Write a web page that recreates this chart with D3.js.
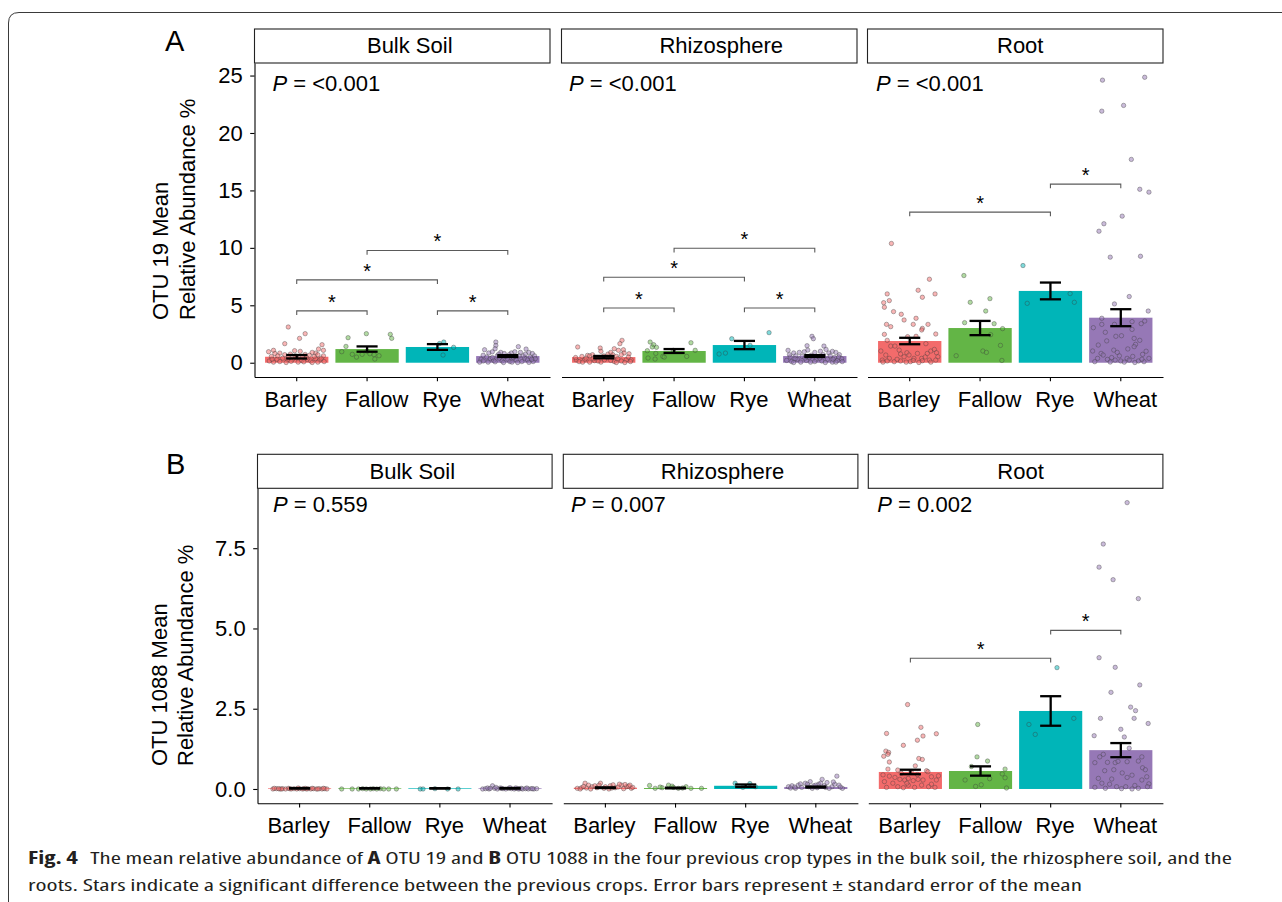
<!DOCTYPE html>
<html><head><meta charset="utf-8">
<script src="https://cdn.jsdelivr.net/npm/d3@7"></script>
<style>
body{margin:0;background:#fff;}
svg{display:block;font-family:"Liberation Sans",Arial,Helvetica,sans-serif;}
</style></head><body>
<svg id="chart" width="1282" height="902"></svg>
<script>
// ---------------- DATA ----------------
const crops = ["Barley","Fallow","Rye","Wheat"];
const compartments = ["Bulk Soil","Rhizosphere","Root"];
const cropColors = ["#F36B6B","#63B546","#00B5B8","#9678B6"];

const otu19Ticks = [0,5,10,15,20,25];
const otu1088Ticks = [0,2.5,5,7.5];

// means and standard errors per compartment (Bulk, Rhizo, Root) x crop
const otu19Mean = [[0.52,1.19,1.37,0.58],[0.49,1.02,1.54,0.58],[1.89,3.02,6.25,3.92]];
const otu19SE   = [[0.15,0.23,0.25,0.08],[0.10,0.17,0.36,0.08],[0.28,0.62,0.73,0.74]];
const otu1088Mean = [[0.02,0.02,0.02,0.02],[0.04,0.03,0.10,0.06],[0.53,0.56,2.43,1.21]];
const otu1088SE   = [[0.004,0.004,0.004,0.005],[0.01,0.01,0.04,0.015],[0.07,0.145,0.46,0.22]];

const otu19P = ["<0.001","<0.001","<0.001"];
const otu1088P = ["0.559","0.007","0.002"];

// significance brackets: [from, to, level]
const otu19Sig = [
  [["Barley","Fallow",4.51],["Rye","Wheat",4.51],["Barley","Rye",7.21],["Fallow","Wheat",9.77]],
  [["Barley","Fallow",4.77],["Rye","Wheat",4.77],["Barley","Rye",7.44],["Fallow","Wheat",9.97]],
  [["Barley","Rye",13.11],["Rye","Wheat",15.55]]
];
const otu1088Sig = [[],[],[["Barley","Rye",4.07],["Rye","Wheat",4.94]]];

// individual samples: [jitter (category units), value]
const otu19BulkPts = {
  Barley:[[-0.12,3.11],[0.12,2.53],[0.04,2.12],[-0.17,1.66],[0.36,1.57],[0.31,1.19],[0.38,1.08],[0.27,0.84],[-0.40,0.96],[-0.33,1.08],[-0.03,1.05],[0.05,0.99],[-0.24,0.84],[-0.31,0.80],[0.22,0.90],[-0.09,0.75],[-0.17,0.70],[0.12,0.72],[0.18,0.65],[-0.36,0.55],[-0.28,0.30],[-0.20,0.40],[-0.13,0.25],[-0.06,0.30],[0.00,0.45],[0.07,0.20],[0.15,0.30],[0.20,0.15],[0.27,0.35],[0.33,0.25],[0.39,0.10],[-0.39,0.15],[-0.33,0.05],[-0.24,0.10],[-0.15,0.02],[-0.08,0.12],[0.02,0.05],[0.10,0.08],[0.22,0.02],[0.30,0.05],[0.35,0.40],[-0.02,0.60],[0.08,0.50],[-0.27,0.60],[0.25,0.55],[-0.12,0.50],[0.14,0.45],[0.30,0.70],[-0.35,0.30],[0.38,0.60]],
  Fallow:[[-0.27,2.18],[-0.01,2.53],[0.33,2.47],[0.35,2.12],[-0.30,1.42],[-0.36,0.96],[-0.21,0.73],[-0.15,0.49],[-0.07,0.73],[0.04,0.78],[0.10,0.70],[0.17,0.61],[0.11,0.32],[0.00,1.00]],
  Rye:[[0.09,1.80],[0.23,1.34],[0.08,0.67],[0.03,1.67]],
  Wheat:[[-0.17,1.80],[-0.17,1.50],[-0.18,1.22],[0.15,1.40],[0.26,1.19],[-0.33,1.13],[-0.27,0.85],[-0.22,0.95],[-0.10,0.90],[-0.05,0.80],[0.05,0.85],[0.10,0.95],[0.18,0.90],[0.30,0.90],[0.35,0.80],[0.38,0.60],[-0.38,0.30],[-0.35,0.15],[-0.30,0.50],[-0.25,0.35],[-0.20,0.20],[-0.15,0.60],[-0.12,0.40],[-0.08,0.15],[-0.03,0.55],[0.00,0.30],[0.03,0.10],[0.08,0.45],[0.12,0.25],[0.16,0.60],[0.20,0.10],[0.24,0.40],[0.28,0.25],[0.32,0.50],[0.36,0.10],[0.39,0.35],[-0.40,0.05],[-0.28,0.05],[-0.18,0.08],[-0.06,0.02],[0.06,0.05],[0.14,0.02],[0.22,0.60],[0.30,0.03],[-0.13,0.75],[0.02,0.70],[-0.35,0.65],[0.10,0.55],[0.25,0.75],[-0.22,0.45],[0.34,0.30]]
};
const otu19RhizoPts = {
  Barley:[[-0.37,1.37],[0.26,1.95],[0.23,1.66],[-0.05,1.28],[-0.04,0.99],[0.15,1.22],[0.21,1.08],[0.28,1.13],[0.36,0.78],[0.29,0.85],[-0.23,0.64],[-0.16,0.70],[-0.31,0.55],[0.06,0.75],[0.10,0.90],[0.13,0.70],[0.18,0.55],[0.25,0.70],[-0.39,0.25],[-0.27,0.25],[-0.13,0.18],[0.01,0.25],[0.32,0.25],[0.39,0.25],[-0.35,0.10],[-0.20,0.05],[-0.04,0.05],[0.15,0.10],[0.25,0.15],[-0.40,0.45],[-0.10,0.40],[0.05,0.45],[-0.25,0.40],[0.35,0.50],[0.20,0.35],[-0.30,0.05],[-0.15,0.35],[0.10,0.20],[0.30,0.02],[0.00,0.60],[-0.08,0.15],[0.18,0.02],[0.38,0.10],[-0.20,0.60],[0.12,0.45]],
  Fallow:[[-0.34,1.80],[-0.29,1.57],[-0.25,1.34],[-0.31,1.37],[0.24,1.74],[0.30,1.08],[-0.38,1.05],[-0.26,0.81],[-0.37,0.41],[-0.27,0.32],[-0.16,0.55],[-0.14,0.49],[0.18,0.55],[-0.01,1.08]],
  Rye:[[-0.18,2.09],[0.35,2.62],[0.08,1.51],[-0.36,0.76],[-0.27,0.84]],
  Wheat:[[-0.04,2.30],[-0.02,2.09],[-0.11,1.48],[0.13,1.45],[0.16,1.16],[0.25,0.99],[-0.38,1.08],[-0.10,1.10],[-0.30,0.85],[-0.22,0.90],[-0.15,0.95],[0.00,0.90],[0.08,1.00],[0.20,0.85],[0.30,0.90],[0.35,0.70],[-0.35,0.50],[-0.27,0.60],[-0.18,0.55],[-0.05,0.65],[0.05,0.55],[0.12,0.70],[0.22,0.60],[0.28,0.45],[0.38,0.35],[-0.40,0.20],[-0.33,0.10],[-0.25,0.30],[-0.12,0.20],[-0.06,0.05],[0.02,0.30],[0.10,0.15],[0.18,0.30],[0.25,0.05],[0.32,0.20],[0.39,0.10],[-0.20,0.05],[0.15,0.02],[-0.28,0.35],[0.07,0.40],[-0.14,0.40],[0.34,0.50],[-0.36,0.70],[0.26,0.30],[-0.08,0.45],[0.00,0.10],[0.30,0.05],[-0.30,0.02]]
};
const otu19RootPts = {
  Barley:[[-0.26,10.38],[0.28,7.27],[0.12,6.31],[0.36,5.99],[0.18,5.70],[-0.32,5.99],[-0.29,5.41],[-0.37,5.23],[-0.36,4.83],[-0.23,4.45],[-0.12,4.22],[0.09,3.87],[-0.08,3.72],[-0.33,3.34],[-0.27,3.14],[0.05,3.34],[0.26,3.34],[0.18,2.99],[0.17,2.85],[-0.36,2.47],[0.37,2.50],[0.09,2.30],[-0.03,2.27],[-0.32,1.95],[-0.27,1.45],[-0.21,1.45],[0.23,1.66],[-0.41,1.02],[-0.34,0.67],[-0.29,0.38],[-0.15,1.10],[-0.13,0.76],[-0.08,0.52],[-0.04,0.87],[-0.01,0.67],[0.06,0.38],[0.11,0.81],[0.17,0.38],[0.25,0.81],[0.30,1.02],[0.35,1.16],[0.38,0.87],[0.40,0.52],[0.37,0.23],[0.28,0.23],[0.18,0.17],[0.01,0.09],[-0.13,0.15],[-0.22,0.09],[-0.32,0.15],[-0.39,0.23],[0.22,0.50],[-0.18,0.30],[0.05,0.20],[-0.05,0.05],[0.30,0.05],[-0.38,0.05],[0.13,0.02]],
  Fallow:[[-0.23,7.59],[0.14,5.58],[-0.14,5.26],[0.08,4.50],[-0.22,3.49],[0.20,3.40],[0.32,2.97],[0.15,2.44],[0.29,1.51],[0.04,1.02],[0.09,0.90],[-0.34,0.61],[0.31,0.20]],
  Rye:[[-0.39,8.46],[0.28,6.02],[0.34,5.26],[-0.33,5.17]],
  Wheat:[[-0.26,24.60],[0.34,24.85],[-0.27,21.90],[0.04,22.40],[0.15,17.70],[0.27,15.10],[0.40,14.85],[0.02,12.76],[-0.24,12.10],[-0.31,11.45],[-0.15,9.19],[0.28,9.27],[0.12,5.76],[-0.09,5.12],[0.39,4.50],[0.34,3.63],[0.29,3.40],[-0.27,3.87],[-0.27,3.34],[-0.09,3.34],[0.16,3.58],[-0.39,3.05],[-0.22,2.65],[0.16,2.90],[-0.07,2.30],[0.01,2.35],[0.19,2.12],[0.21,1.60],[-0.32,1.54],[-0.10,1.10],[-0.40,1.02],[-0.28,0.81],[-0.25,0.67],[-0.33,0.38],[-0.19,0.29],[-0.08,0.23],[0.00,0.15],[0.09,0.38],[0.12,0.23],[0.17,0.55],[0.31,0.73],[0.19,1.40],[0.40,0.38],[0.25,0.15],[0.33,0.09],[-0.37,0.09],[-0.15,0.06],[0.05,0.05],[0.20,0.02],[-0.02,0.60],[0.27,1.95],[0.10,1.20],[-0.20,1.90],[0.36,1.00],[-0.13,0.45],[0.30,0.30],[-0.05,0.90]]
};
const otu1088BulkPts = {
  Barley:[[-0.38,0.00],[-0.33,0.01],[-0.28,0.00],[-0.24,0.01],[-0.20,0.00],[-0.16,0.02],[-0.12,0.00],[-0.08,0.01],[-0.04,0.00],[0.00,0.01],[0.04,0.00],[0.08,0.02],[0.12,0.01],[0.16,0.00],[0.20,0.01],[0.24,0.00],[0.28,0.01],[0.32,0.00],[0.36,0.01],[0.39,0.00],[-0.36,0.02],[-0.26,0.00],[-0.14,0.01],[-0.02,0.03],[0.10,0.00],[0.18,0.02],[0.26,0.00],[0.34,0.02],[-0.30,0.01],[0.06,0.01]],
  Fallow:[[-0.40,0.00],[-0.25,0.00],[-0.16,0.00],[-0.10,0.01],[0.01,0.00],[0.10,0.00],[0.15,0.01],[0.27,0.00],[0.38,0.00],[-0.05,0.00],[0.05,0.01],[0.20,0.00]],
  Rye:[[-0.28,0.00],[-0.24,0.00],[-0.07,0.01],[0.11,0.00],[0.26,0.00]],
  Wheat:[[-0.39,0.00],[-0.35,0.01],[-0.30,0.00],[-0.25,0.10],[-0.22,0.02],[-0.18,0.00],[-0.14,0.03],[-0.10,0.01],[-0.06,0.00],[-0.02,0.02],[0.02,0.01],[0.06,0.00],[0.10,0.02],[0.14,0.01],[0.18,0.00],[0.22,0.01],[0.26,0.00],[0.30,0.01],[0.34,0.00],[0.38,0.01],[-0.32,0.03],[-0.20,0.05],[-0.12,0.02],[0.00,0.04],[0.08,0.03],[0.16,0.02],[0.24,0.03],[0.32,0.01],[-0.28,0.02],[0.12,0.00]]
};
const otu1088RhizoPts = {
  Barley:[[-0.29,0.18],[-0.07,0.18],[-0.24,0.12],[-0.40,0.02],[-0.34,0.04],[-0.19,0.07],[-0.12,0.04],[0.00,0.07],[0.07,0.10],[0.14,0.04],[0.23,0.12],[0.30,0.07],[0.37,0.02],[-0.36,0.00],[-0.27,0.03],[-0.15,0.10],[-0.02,0.02],[0.05,0.00],[0.11,0.13],[0.18,0.06],[0.26,0.01],[0.33,0.09],[0.39,0.05],[-0.09,0.12],[0.20,0.15],[0.28,0.14],[-0.31,0.08],[0.09,0.03],[-0.21,0.00],[0.35,0.12]],
  Fallow:[[-0.37,0.11],[-0.10,0.12],[-0.29,0.02],[-0.19,0.04],[-0.03,0.05],[0.04,0.02],[0.22,0.02],[0.37,0.02],[-0.22,0.06],[0.10,0.03],[0.15,0.07],[-0.05,0.09]],
  Rye:[[-0.15,0.18],[0.06,0.17],[0.14,0.07],[-0.04,0.05]],
  Wheat:[[0.30,0.40],[0.09,0.30],[-0.08,0.23],[-0.15,0.18],[0.16,0.20],[0.04,0.15],[-0.25,0.12],[-0.39,0.07],[-0.29,0.02],[-0.10,0.07],[0.23,0.07],[0.33,0.12],[0.38,0.02],[-0.34,0.10],[-0.20,0.05],[-0.03,0.10],[0.02,0.04],[0.12,0.10],[0.19,0.02],[0.27,0.15],[-0.12,0.15],[0.07,0.18],[-0.36,0.03],[0.35,0.06],[-0.22,0.16],[0.14,0.05],[-0.05,0.02],[0.25,0.22],[0.00,0.12],[-0.30,0.06]]
};
const otu1088RootPts = {
  Barley:[[-0.04,2.63],[0.15,1.92],[-0.34,1.73],[0.18,1.65],[0.37,1.72],[-0.10,1.36],[0.10,1.52],[-0.35,1.18],[-0.31,1.14],[-0.32,1.08],[-0.38,1.02],[-0.30,0.84],[0.12,0.95],[0.17,0.92],[0.07,0.72],[-0.32,0.62],[-0.18,0.59],[-0.13,0.49],[0.01,0.54],[0.23,0.57],[0.25,0.54],[-0.39,0.44],[-0.30,0.40],[-0.22,0.36],[-0.15,0.30],[-0.08,0.28],[-0.03,0.33],[0.04,0.26],[0.11,0.30],[0.18,0.28],[0.30,0.38],[0.37,0.28],[0.40,0.41],[-0.37,0.23],[-0.25,0.18],[-0.18,0.07],[-0.10,0.04],[-0.03,0.12],[0.06,0.05],[0.16,0.12],[0.26,0.07],[0.35,0.05],[-0.34,0.05],[0.30,0.15],[-0.05,0.18],[0.10,0.45]],
  Fallow:[[-0.04,2.01],[-0.05,1.00],[0.10,0.87],[-0.13,0.70],[0.35,0.62],[0.31,0.47],[0.35,0.35],[0.13,0.32],[-0.22,0.28],[0.01,0.13],[-0.07,0.08],[0.37,0.03]],
  Rye:[[-0.31,2.01],[0.33,2.20],[-0.22,1.70],[0.09,3.78]],
  Wheat:[[0.09,8.92],[-0.25,7.63],[-0.31,6.91],[-0.11,6.52],[0.25,5.93],[-0.31,4.09],[-0.08,3.79],[0.27,3.24],[-0.14,3.01],[0.14,2.55],[0.21,2.44],[-0.29,2.20],[0.19,2.20],[0.39,2.04],[0.00,1.86],[-0.38,1.66],[0.05,1.62],[0.12,1.27],[-0.25,1.08],[-0.19,0.83],[-0.08,0.82],[-0.04,0.86],[0.09,0.85],[0.25,0.87],[0.31,0.66],[-0.37,0.82],[-0.23,0.57],[-0.32,0.33],[-0.13,0.31],[0.09,0.36],[0.16,0.43],[0.37,0.38],[0.30,0.28],[0.40,0.16],[-0.27,0.18],[-0.16,0.15],[-0.06,0.07],[0.07,0.07],[0.20,0.11],[0.38,0.07],[-0.37,0.05],[-0.22,0.02],[0.01,0.01],[0.16,0.00],[0.25,0.02],[-0.10,0.60],[0.02,0.50],[0.30,1.00],[-0.30,1.00],[0.35,0.60]]
};

// ---------------- DRAWING ----------------
const svg = d3.select("#chart");

// figure frame (rounded corner, clipped at page edge)
svg.append("path")
  .attr("d","M8.5,902 V23 Q8.5,12.5 19,12.5 H1282")
  .attr("fill","none").attr("stroke","#3a3a3a").attr("stroke-width",1);

const rows = [
  {label:"A", title:["OTU 19 Mean","Relative Abundance %"], means:otu19Mean, se:otu19SE,
   pts:[otu19BulkPts,otu19RhizoPts,otu19RootPts], sig:otu19Sig, p:otu19P, ticks:otu19Ticks, fmt:d3.format("d"),
   lefts:[254.5,561.5,867.5], width:295.5, stripTop:29, plotTop:63, plotBottom:377,
   pDx:[18,7.5,8.5], pDy:27.7, titleX:[168.3,195], titleStart:320, labelPos:[165,50.7]},
  {label:"B", title:["OTU 1088 Mean","Relative Abundance %"], means:otu1088Mean, se:otu1088SE,
   pts:[otu1088BulkPts,otu1088RhizoPts,otu1088RootPts], sig:otu1088Sig, p:otu1088P, ticks:otu1088Ticks, fmt:d3.format(".1f"),
   lefts:[257.5,563.3,868.3], width:294.6, stripTop:454.3, plotTop:488.3, plotBottom:803.3,
   pDx:[15.5,7.7,9], pDy:23.4, titleX:[166.7,193.3], titleStart:766, labelPos:[166,474]}
];

const FS = 22;
const stripDx = [7.5, 12, 5];          // label offsets seen in the reference strips
const tickDx = [-1, 9.5, 4.5, 4.5];    // label offsets seen under the ticks

rows.forEach(row => {
  let maxV = 0;
  row.pts.forEach(p => crops.forEach(c => p[c].forEach(d => { if (d[1] > maxV) maxV = d[1]; })));
  const y = d3.scaleLinear()
    .domain([-0.05*maxV, 1.05*maxV])
    .range([row.plotBottom, row.plotTop]);

  svg.append("text").attr("x",row.labelPos[0]).attr("y",row.labelPos[1])
    .attr("font-size",29).attr("fill","#000").text(row.label);

  row.title.forEach((t,i) => {
    svg.append("text")
      .attr("transform",`translate(${row.titleX[i]},${row.titleStart}) rotate(-90)`)
      .attr("text-anchor","start").attr("font-size",FS).attr("fill","#000").text(t);
  });

  compartments.forEach((comp, ci) => {
    const left = row.lefts[ci], w = row.width;
    const x = d3.scaleBand().domain(crops).range([left, left+w]).paddingInner(0.1).paddingOuter(0.15);
    const step = x.step(), bw = x.bandwidth();
    const g = svg.append("g");

    g.append("rect").attr("x",left).attr("y",row.stripTop).attr("width",w)
      .attr("height",row.plotTop-row.stripTop).attr("fill","#fff").attr("stroke","#222").attr("stroke-width",1.1);
    g.append("text").attr("x",left+w/2+stripDx[ci]).attr("y",row.stripTop+24.2).attr("text-anchor","middle")
      .attr("font-size",FS).attr("fill","#000").text(comp);

    g.selectAll("rect.bar").data(crops).join("rect").attr("class","bar")
      .attr("x",c => x(c)).attr("width",bw)
      .attr("y",(c,i) => y(row.means[ci][i]))
      .attr("height",(c,i) => y(0)-y(row.means[ci][i]))
      .attr("fill",(c,i) => cropColors[i]);

    crops.forEach((c,i) => {
      g.selectAll(null).data(row.pts[ci][c]).join("circle")
        .attr("cx",d => x(c)+bw/2+d[0]*step)
        .attr("cy",d => y(d[1]))
        .attr("r",2.2)
        .attr("fill",cropColors[i]).attr("fill-opacity",0.5)
        .attr("stroke","#3c3c3c").attr("stroke-opacity",0.55).attr("stroke-width",0.7);
    });

    crops.forEach((c,i) => {
      const m = row.means[ci][i], s = row.se[ci][i];
      const cx = x(c)+bw/2, hw = 0.15*step;
      const eg = g.append("g").attr("stroke","#000").attr("stroke-width",2.3).attr("fill","none");
      eg.append("line").attr("x1",cx).attr("x2",cx).attr("y1",y(m-s)).attr("y2",y(m+s));
      eg.append("line").attr("x1",cx-hw).attr("x2",cx+hw).attr("y1",y(m-s)).attr("y2",y(m-s));
      eg.append("line").attr("x1",cx-hw).attr("x2",cx+hw).attr("y1",y(m+s)).attr("y2",y(m+s));
    });

    row.sig[ci].forEach(s => {
      const x1 = x(s[0])+bw/2, x2 = x(s[1])+bw/2, yy = y(s[2]);
      g.append("path").attr("d",`M${x1},${yy+4.2}V${yy}H${x2}V${yy+4.2}`)
        .attr("fill","none").attr("stroke","#5a5a5a").attr("stroke-width",1.1);
      g.append("text").attr("x",(x1+x2)/2).attr("y",yy-2.2).attr("text-anchor","middle")
        .attr("font-size",20).attr("fill","#000").text("*");
    });

    const pt = g.append("text").attr("x",left+row.pDx[ci]).attr("y",row.plotTop+row.pDy)
      .attr("font-size",FS).attr("fill","#000");
    pt.append("tspan").attr("font-style","italic").text("P");
    pt.append("tspan").text(" = " + row.p[ci]);

    const xa = g.append("g").attr("transform",`translate(0,${row.plotBottom})`)
      .call(d3.axisBottom(x).tickSize(4.3).tickSizeOuter(0).tickPadding(10.2));
    xa.selectAll("path,line").attr("stroke","#000").attr("stroke-width",1.1);
    xa.selectAll("text").attr("font-size",FS).attr("fill","#000").attr("dx",(d,i) => tickDx[i]);
    xa.attr("font-family",null);

    if (ci === 0) {
      const ya = g.append("g").attr("transform",`translate(${left},0)`)
        .call(d3.axisLeft(y).tickValues(row.ticks).tickFormat(row.fmt).tickSize(4.3).tickSizeOuter(0).tickPadding(7.5));
      ya.selectAll("path,line").attr("stroke","#000").attr("stroke-width",1.1);
      ya.selectAll("text").attr("font-size",FS).attr("fill","#000");
      ya.attr("font-family",null);
    }
  });
});

// caption
const cap = svg.append("g").attr("font-family","'Open Sans','Liberation Sans Narrow','DejaVu Sans',sans-serif")
  .attr("font-stretch","condensed").style("font-stretch","75%")
  .attr("font-size",17).attr("fill","#231f20");
const l1 = cap.append("text").attr("x",28).attr("y",864).attr("textLength",1204).attr("lengthAdjust","spacingAndGlyphs");
l1.append("tspan").attr("font-weight","bold").text("Fig. 4");
l1.append("tspan").text("\u2002The mean relative abundance of ");
l1.append("tspan").attr("font-weight","bold").text("A");
l1.append("tspan").text(" OTU 19 and ");
l1.append("tspan").attr("font-weight","bold").text("B");
l1.append("tspan").text(" OTU 1088 in the four previous crop types in the bulk soil, the rhizosphere soil, and the");
cap.append("text").attr("x",28).attr("y",891).attr("textLength",1054).attr("lengthAdjust","spacingAndGlyphs")
  .text("roots. Stars indicate a significant difference between the previous crops. Error bars represent \u00b1 standard error of the mean");
</script></body></html>
